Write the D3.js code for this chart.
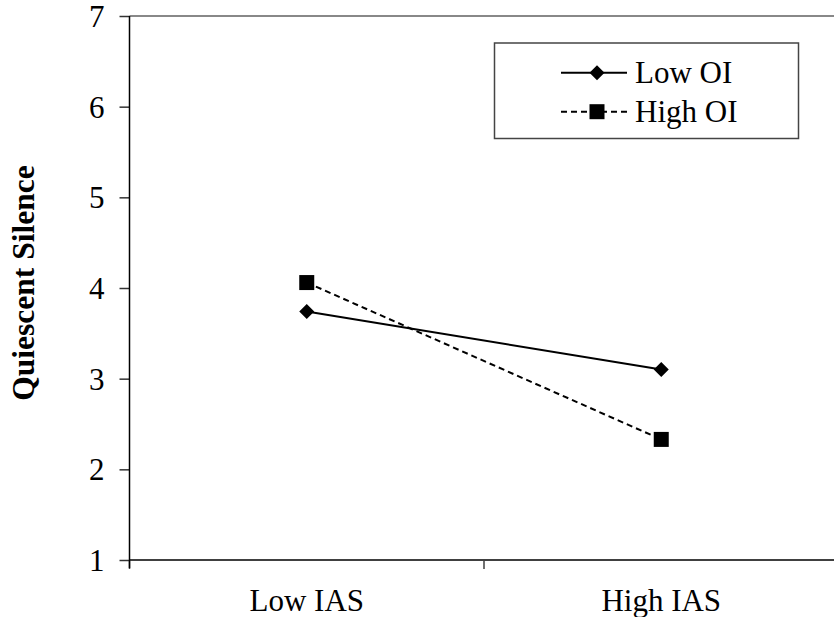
<!DOCTYPE html>
<html>
<head>
<meta charset="utf-8">
<script src="https://cdn.jsdelivr.net/npm/d3@7"></script>
<style>
  body { margin: 0; background: #fff; }
  text { font-family: "Liberation Serif", "Times New Roman", serif; fill: #000; }
</style>
</head>
<body>
<div id="chart"></div>
<script>
const width = 834;
const height = 617;

const categories = ["Low IAS", "High IAS"];
const lowOI = [3.74, 3.10];
const highOI = [4.06, 2.33];
const yTicks = [1, 2, 3, 4, 5, 6, 7];

const series = [
  { name: "Low OI", values: lowOI, marker: "diamond", dash: null },
  { name: "High OI", values: highOI, marker: "square", dash: "6,4" },
];

const svg = d3
  .select("#chart")
  .append("svg")
  .attr("width", width)
  .attr("height", height);

const xScale = d3.scaleBand().domain(categories).range([129.5, 838.5]).padding(0);
const yScale = d3.scaleLinear().domain([1, 7]).range([560, 16]);
const cx = (c) => xScale(c) + xScale.bandwidth() / 2;

// frame: top and right borders in gray
svg
  .append("path")
  .attr("d", `M129.5,16H838.5V560`)
  .attr("fill", "none")
  .attr("stroke", "#888")
  .attr("stroke-width", 2);

// y axis
const yAxis = d3.axisLeft(yScale).tickValues(yTicks).tickSize(10).tickFormat(d3.format("d"));
const gy = svg.append("g").attr("transform", "translate(129.5,0)").call(yAxis);
gy.select(".domain").remove();
gy.selectAll(".tick line").attr("stroke", "#333").attr("stroke-width", 1.5);
gy.selectAll(".tick text")
  .attr("x", -25)
  .attr("dy", "0.34em")
  .style("font-size", "31px")
  .style("font-family", "'Liberation Serif', 'Times New Roman', serif");

// x axis
const xTickPos = [129.5, 129.5 + xScale.bandwidth(), 838.5];
svg
  .append("line")
  .attr("x1", 129.5)
  .attr("x2", 838.5)
  .attr("y1", 560)
  .attr("y2", 560)
  .attr("stroke", "#404040")
  .attr("stroke-width", 2);
svg
  .selectAll(".xtick")
  .data(xTickPos)
  .enter()
  .append("line")
  .attr("x1", (d) => d)
  .attr("x2", (d) => d)
  .attr("y1", 560)
  .attr("y2", 569)
  .attr("stroke", "#404040")
  .attr("stroke-width", 1.5);

svg
  .append("line")
  .attr("x1", 129.5)
  .attr("x2", 129.5)
  .attr("y1", 16)
  .attr("y2", 568)
  .attr("stroke", "#000")
  .attr("stroke-width", 1.5);

svg
  .selectAll(".xlabel")
  .data(categories)
  .enter()
  .append("text")
  .attr("x", (d) => cx(d))
  .attr("y", 611)
  .attr("text-anchor", "middle")
  .style("font-size", "31px")
  .text((d) => d);

// y axis title
svg
  .append("text")
  .attr("transform", "translate(34,283) rotate(-90)")
  .attr("text-anchor", "middle")
  .style("font-size", "31.5px")
  .style("font-weight", "bold")
  .text("Quiescent Silence");

function drawMarker(g, type, x, y) {
  if (type === "diamond") {
    g.append("path")
      .attr("d", `M${x},${y - 7.5}L${x + 7.5},${y}L${x},${y + 7.5}L${x - 7.5},${y}Z`)
      .attr("fill", "#000");
  } else {
    g.append("rect")
      .attr("x", x - 7.5)
      .attr("y", y - 7.5)
      .attr("width", 15)
      .attr("height", 15)
      .attr("fill", "#000");
  }
}

const line = d3
  .line()
  .x((d, i) => cx(categories[i]))
  .y((d) => yScale(d));

series.forEach((s) => {
  svg
    .append("path")
    .datum(s.values)
    .attr("d", line)
    .attr("fill", "none")
    .attr("stroke", "#000")
    .attr("stroke-width", 2)
    .attr("stroke-dasharray", s.dash);
  const g = svg.append("g");
  s.values.forEach((v, i) => drawMarker(g, s.marker, cx(categories[i]), yScale(v)));
});

// legend
const legend = svg.append("g");
legend
  .append("rect")
  .attr("x", 494.5)
  .attr("y", 43)
  .attr("width", 304)
  .attr("height", 95.5)
  .attr("fill", "#fff")
  .attr("stroke", "#444")
  .attr("stroke-width", 1.5);

series.forEach((s, i) => {
  const y = 72.7 + i * 39;
  legend
    .append("line")
    .attr("x1", 561)
    .attr("x2", 627)
    .attr("y1", y)
    .attr("y2", y)
    .attr("stroke", "#000")
    .attr("stroke-width", 2)
    .attr("stroke-dasharray", s.dash);
  drawMarker(legend, s.marker, 597, y);
  legend
    .append("text")
    .attr("x", 635)
    .attr("y", y + 10)
    .style("font-size", "31px")
    .text(s.name);
});
</script>
</body>
</html>
